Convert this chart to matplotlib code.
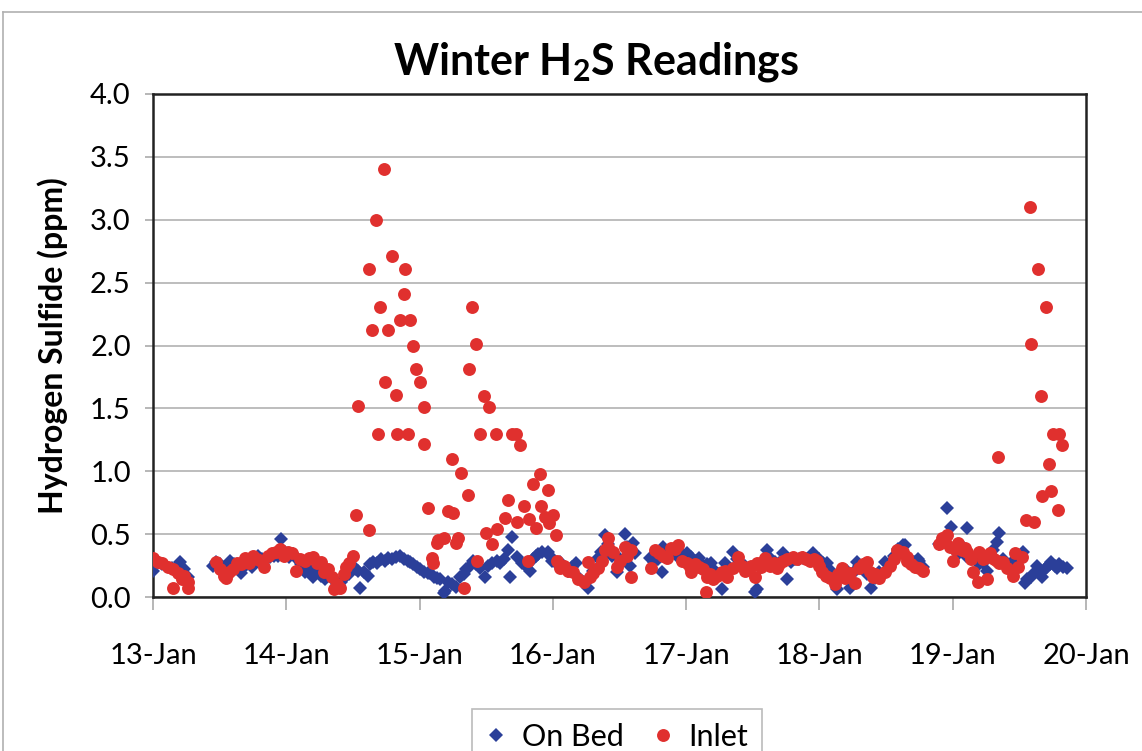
import matplotlib
matplotlib.use("Agg")
import matplotlib.pyplot as plt
from matplotlib.lines import Line2D
import numpy as np

# ---- Data: time in days since 13-Jan 00:00, H2S in ppm ----
onbed_t_a = [0.00, 0.04, 0.07, 0.10, 0.14, 0.17, 0.20, 0.23, 0.26]
onbed_v_a = [0.21, 0.28, 0.26, 0.25, 0.23, 0.22, 0.28, 0.22, 0.16]

onbed_t_b = [0.45, 0.47, 0.50, 0.53, 0.56, 0.58, 0.61, 0.64, 0.66, 0.69,
             0.72, 0.74, 0.77, 0.79, 0.82, 0.85, 0.88, 0.91, 0.94, 0.96,
             0.99, 1.02, 1.05, 1.08, 1.11, 1.14, 1.17, 1.20, 1.23, 1.26,
             1.29, 1.32, 1.35, 1.38, 1.41, 1.44, 1.47, 1.50, 1.52, 1.54,
             1.55, 1.58, 1.61, 1.63, 1.65, 1.68, 1.71, 1.74, 1.76, 1.79,
             1.82, 1.85, 1.88, 1.91, 1.93, 1.95, 1.98, 2.00, 2.03, 2.06,
             2.08, 2.11, 2.13, 2.15, 2.18, 2.19, 2.21, 2.24, 2.27, 2.30,
             2.33, 2.35, 2.36, 2.40, 2.42, 2.45, 2.49, 2.51, 2.54, 2.58,
             2.60, 2.63, 2.66, 2.68, 2.69, 2.73, 2.77, 2.80, 2.83, 2.85,
             2.87, 2.89, 2.92, 2.96, 2.98, 2.99, 3.02, 3.05, 3.08, 3.11,
             3.14, 3.17, 3.20, 3.23, 3.26, 3.28, 3.30, 3.34, 3.36, 3.39,
             3.41, 3.44, 3.48, 3.50, 3.54, 3.56, 3.58, 3.60, 3.62]
onbed_v_b = [0.25, 0.28, 0.26, 0.23, 0.25, 0.29, 0.26, 0.24, 0.19, 0.25,
             0.27, 0.24, 0.29, 0.33, 0.30, 0.31, 0.32, 0.33, 0.33, 0.46,
             0.36, 0.32, 0.34, 0.30, 0.26, 0.20, 0.22, 0.16, 0.20, 0.17,
             0.14, 0.18, 0.14, 0.10, 0.12, 0.16, 0.18, 0.24, 0.22, 0.21,
             0.07, 0.20, 0.17, 0.26, 0.28, 0.27, 0.30, 0.29, 0.31, 0.30,
             0.32, 0.33, 0.30, 0.29, 0.28, 0.26, 0.24, 0.22, 0.20, 0.19,
             0.19, 0.16, 0.15, 0.14, 0.03, 0.05, 0.12, 0.10, 0.08, 0.16,
             0.18, 0.22, 0.23, 0.29, 0.26, 0.23, 0.16, 0.25, 0.27, 0.29,
             0.27, 0.30, 0.37, 0.16, 0.48, 0.32, 0.27, 0.25, 0.21, 0.30,
             0.33, 0.34, 0.36, 0.36, 0.33, 0.29, 0.27, 0.28, 0.24, 0.21,
             0.24, 0.27, 0.14, 0.12, 0.07, 0.15, 0.21, 0.31, 0.36, 0.49,
             0.42, 0.33, 0.20, 0.30, 0.50, 0.40, 0.25, 0.43, 0.35]

onbed_t_c = [3.73, 3.76, 3.79, 3.82, 3.83, 3.86, 3.89, 3.93, 3.97, 4.01,
             4.04, 4.07, 4.10, 4.13, 4.16, 4.19, 4.22, 4.25, 4.27, 4.29,
             4.32, 4.35, 4.38, 4.41, 4.44, 4.48, 4.52, 4.53, 4.56, 4.59,
             4.61, 4.64, 4.67, 4.70, 4.73, 4.76, 4.79, 4.82, 4.85, 4.88,
             4.91, 4.95, 4.98, 5.00, 5.03, 5.06, 5.09, 5.13, 5.15, 5.18,
             5.21, 5.23, 5.26, 5.28, 5.30, 5.33, 5.36, 5.39, 5.42, 5.45,
             5.49, 5.53, 5.56, 5.59, 5.63, 5.64, 5.68, 5.71, 5.74, 5.75,
             5.78]
onbed_v_c = [0.31, 0.28, 0.30, 0.20, 0.40, 0.34, 0.36, 0.33, 0.34, 0.35,
             0.32, 0.29, 0.31, 0.25, 0.26, 0.27, 0.21, 0.18, 0.06, 0.27,
             0.22, 0.36, 0.30, 0.27, 0.25, 0.22, 0.04, 0.06, 0.24, 0.30,
             0.37, 0.30, 0.28, 0.27, 0.35, 0.14, 0.28, 0.30, 0.30, 0.31,
             0.30, 0.35, 0.29, 0.30, 0.27, 0.27, 0.21, 0.06, 0.18, 0.16,
             0.21, 0.07, 0.20, 0.28, 0.25, 0.22, 0.18, 0.07, 0.15, 0.20,
             0.28, 0.27, 0.33, 0.38, 0.41, 0.41, 0.30, 0.28, 0.30, 0.29,
             0.24]

onbed_t_d = [5.90, 5.93, 5.96, 5.99, 6.02, 6.04, 6.08, 6.10, 6.11, 6.14,
             6.17, 6.20, 6.23, 6.26, 6.30, 6.33, 6.35, 6.38, 6.41, 6.44,
             6.47, 6.50, 6.53, 6.54, 6.56, 6.59, 6.61, 6.63, 6.65, 6.67,
             6.69, 6.71, 6.73, 6.74, 6.77, 6.78, 6.80, 6.83, 6.86]
onbed_v_d = [0.42, 0.45, 0.71, 0.56, 0.38, 0.34, 0.40, 0.33, 0.55, 0.31,
             0.30, 0.26, 0.27, 0.21, 0.37, 0.44, 0.51, 0.30, 0.25, 0.27,
             0.24, 0.31, 0.36, 0.11, 0.14, 0.16, 0.19, 0.25, 0.20, 0.16,
             0.22, 0.24, 0.26, 0.28, 0.25, 0.23, 0.26, 0.24, 0.23]

inlet_t_a = [0.00, 0.04, 0.07, 0.11, 0.15, 0.15, 0.19, 0.22, 0.23, 0.26, 0.26]
inlet_v_a = [0.31, 0.28, 0.27, 0.24, 0.22, 0.07, 0.19, 0.14, 0.17, 0.07, 0.12]

inlet_t_b = [0.47, 0.50, 0.53, 0.55, 0.57, 0.60, 0.63, 0.66, 0.69, 0.72,
             0.75, 0.78, 0.81, 0.83, 0.86, 0.89, 0.92, 0.95, 0.98, 1.01,
             1.04, 1.07, 1.10, 1.14, 1.17, 1.20, 1.23, 1.26, 1.28, 1.31,
             1.34, 1.36, 1.38, 1.40, 1.43, 1.45, 1.47, 1.50]
inlet_v_b = [0.28, 0.22, 0.17, 0.15, 0.20, 0.22, 0.27, 0.26, 0.31, 0.27,
             0.33, 0.30, 0.29, 0.24, 0.33, 0.35, 0.36, 0.38, 0.33, 0.36,
             0.35, 0.21, 0.30, 0.29, 0.31, 0.32, 0.27, 0.28, 0.20, 0.22,
             0.16, 0.06, 0.10, 0.07, 0.18, 0.24, 0.27, 0.33]

inlet_t_peak1 = [1.52, 1.54, 1.62, 1.62, 1.64, 1.67, 1.69, 1.70, 1.73, 1.74,
                 1.76, 1.79, 1.82, 1.83, 1.85, 1.88, 1.89, 1.91, 1.93, 1.95,
                 1.97, 2.00, 2.03, 2.03, 2.06, 2.09, 2.10, 2.13, 2.14, 2.18,
                 2.21, 2.24, 2.25, 2.27, 2.29, 2.31, 2.33, 2.36, 2.37, 2.39,
                 2.42, 2.43, 2.45, 2.48, 2.50, 2.52, 2.54, 2.57, 2.58, 2.64,
                 2.66, 2.69, 2.72, 2.73, 2.75, 2.78, 2.81, 2.82, 2.85, 2.87,
                 2.90, 2.91, 2.94, 2.96, 2.97, 3.00, 3.02]
inlet_v_peak1 = [0.65, 1.52, 2.61, 0.53, 2.12, 3.00, 1.30, 2.31, 3.40, 1.71,
                 2.12, 2.71, 1.61, 1.30, 2.20, 2.41, 2.61, 1.30, 2.20, 2.00,
                 1.81, 1.71, 1.51, 1.22, 0.71, 0.31, 0.27, 0.43, 0.45, 0.47,
                 0.68, 1.10, 0.67, 0.43, 0.47, 0.99, 0.07, 0.81, 1.81, 2.31,
                 2.01, 0.29, 1.30, 1.60, 0.51, 1.51, 0.42, 1.30, 0.54, 0.63,
                 0.77, 1.30, 1.30, 0.60, 1.21, 0.72, 0.29, 0.62, 0.90, 0.55,
                 0.98, 0.72, 0.64, 0.85, 0.59, 0.65, 0.49]

inlet_t_c = [3.03, 3.05, 3.08, 3.11, 3.15, 3.19, 3.23, 3.26, 3.28, 3.30,
             3.34, 3.37, 3.39, 3.41, 3.41, 3.45, 3.48, 3.50, 3.54, 3.56,
             3.59, 3.59]
inlet_v_c = [0.29, 0.23, 0.25, 0.21, 0.20, 0.14, 0.12, 0.28, 0.16, 0.19,
             0.23, 0.29, 0.37, 0.47, 0.40, 0.36, 0.24, 0.29, 0.40, 0.33,
             0.37, 0.16]

inlet_t_d = [3.74, 3.77, 3.80, 3.83, 3.86, 3.89, 3.92, 3.94, 3.97, 4.01,
             4.03, 4.04, 4.07, 4.10, 4.13, 4.15, 4.16, 4.18, 4.20, 4.23,
             4.27, 4.29, 4.31, 4.35, 4.39, 4.42, 4.44, 4.48, 4.49, 4.52,
             4.53, 4.56, 4.59, 4.63, 4.66, 4.68, 4.70, 4.73, 4.76, 4.80,
             4.83, 4.87, 4.90, 4.93, 4.96, 4.98, 5.00, 5.02, 5.05, 5.08,
             5.12, 5.14, 5.17, 5.19, 5.23, 5.27, 5.30, 5.33, 5.36, 5.38,
             5.40, 5.42, 5.45, 5.49, 5.53, 5.56, 5.58, 5.62, 5.63, 5.66,
             5.66, 5.69, 5.72, 5.75, 5.78]
inlet_v_d = [0.23, 0.37, 0.35, 0.33, 0.31, 0.39, 0.38, 0.41, 0.29, 0.27,
             0.24, 0.20, 0.26, 0.24, 0.22, 0.04, 0.16, 0.18, 0.14, 0.17,
             0.20, 0.21, 0.16, 0.23, 0.32, 0.25, 0.21, 0.24, 0.25, 0.16,
             0.27, 0.24, 0.31, 0.25, 0.27, 0.23, 0.26, 0.29, 0.30, 0.32,
             0.30, 0.32, 0.30, 0.29, 0.30, 0.29, 0.25, 0.20, 0.17, 0.15,
             0.10, 0.18, 0.23, 0.15, 0.19, 0.11, 0.23, 0.26, 0.28, 0.20,
             0.16, 0.18, 0.15, 0.20, 0.25, 0.30, 0.37, 0.35, 0.36, 0.32,
             0.29, 0.26, 0.24, 0.23, 0.21]

inlet_t_e = [5.90, 5.92, 5.94, 5.96, 5.98, 6.00, 6.02, 6.04, 6.07, 6.09,
             6.11, 6.14, 6.15, 6.19, 6.20, 6.23, 6.24, 6.26, 6.28, 6.31,
             6.33, 6.34, 6.35, 6.38, 6.41, 6.45, 6.47, 6.49, 6.52, 6.55,
             6.58, 6.59, 6.61, 6.64, 6.66, 6.67, 6.70, 6.72, 6.74, 6.75,
             6.79, 6.80, 6.82]
inlet_v_e = [0.42, 0.47, 0.44, 0.49, 0.40, 0.29, 0.38, 0.43, 0.37, 0.39,
             0.36, 0.30, 0.20, 0.12, 0.36, 0.30, 0.31, 0.14, 0.35, 0.30,
             0.29, 1.11, 0.27, 0.28, 0.23, 0.17, 0.35, 0.24, 0.32, 0.61,
             3.10, 2.01, 0.60, 2.61, 1.60, 0.80, 2.31, 1.06, 0.84, 1.30,
             0.69, 1.30, 1.21]

day_labels = ["13-Jan", "14-Jan", "15-Jan", "16-Jan", "17-Jan", "18-Jan",
              "19-Jan", "20-Jan"]
y_ticks = [0.0, 0.5, 1.0, 1.5, 2.0, 2.5, 3.0, 3.5, 4.0]

onbed_t = onbed_t_a + onbed_t_b + onbed_t_c + onbed_t_d
onbed_v = onbed_v_a + onbed_v_b + onbed_v_c + onbed_v_d
inlet_t = inlet_t_a + inlet_t_b + inlet_t_peak1 + inlet_t_c + inlet_t_d + inlet_t_e
inlet_v = inlet_v_a + inlet_v_b + inlet_v_peak1 + inlet_v_c + inlet_v_d + inlet_v_e

BLUE = "#2B3F99"
RED = "#E0302E"
FONT = ["Lato", "DejaVu Sans"]
plt.rcParams["font.family"] = FONT

fig = plt.figure(figsize=(11.42, 7.51), dpi=100)
fig.patch.set_facecolor("white")

# outer chart border (top and left visible in the reference)
fig.add_artist(Line2D([3 / 1142, 1.0], [1 - 12 / 751, 1 - 12 / 751],
                      transform=fig.transFigure, color="#B0B0B0", lw=1.2))
fig.add_artist(Line2D([3 / 1142, 3 / 1142], [0.0, 1 - 12 / 751],
                      transform=fig.transFigure, color="#B0B0B0", lw=1.2))

ax = fig.add_axes([153 / 1142, 1 - 597 / 751, (1086 - 153) / 1142, (597 - 94) / 751])

ax.plot(onbed_t, onbed_v, linestyle="none", marker="D", markersize=7.2,
        color=BLUE, markeredgewidth=0, label="On Bed", zorder=3)
ax.plot(inlet_t, inlet_v, linestyle="none", marker="o", markersize=9.3,
        color=RED, markeredgewidth=0, label="Inlet", zorder=4)

ax.set_xlim(0, 7)
ax.set_ylim(0, 4)
ax.set_xticks(range(len(day_labels)))
ax.set_xticklabels(day_labels)
ax.set_yticks(y_ticks)
ax.set_yticklabels([f"{v:.1f}" for v in y_ticks])

ax.yaxis.grid(True, color="#BDBDBD", lw=1.4)
ax.set_axisbelow(True)
for s in ax.spines.values():
    s.set_color("#222222")
    s.set_linewidth(1.8)

ax.tick_params(axis="x", length=9, width=1.2, color="#AAAAAA", pad=24,
               labelsize=21, direction="out")
ax.tick_params(axis="y", length=6, width=1.2, color="#AAAAAA", pad=10,
               labelsize=21, direction="out")

ax.set_ylabel("Hydrogen Sulfide (ppm)", fontsize=23, fontweight="bold",
              labelpad=16)

fig.text(596 / 1142, 1 - 62 / 751, r"Winter H$_\mathregular{2}$S Readings",
         ha="center", va="center", fontsize=31, fontweight="bold")

leg = fig.legend(handles=[
    Line2D([], [], linestyle="none", marker="D", markersize=7.2, color=BLUE,
           markeredgewidth=0, label="On Bed"),
    Line2D([], [], linestyle="none", marker="o", markersize=9.3, color=RED,
           markeredgewidth=0, label="Inlet")],
    loc="upper center", bbox_to_anchor=(617 / 1142, 1 - 694 / 751), ncol=2,
    fontsize=22, frameon=True, fancybox=False, edgecolor="#AAAAAA",
    handlelength=0.7, handletextpad=0.5, columnspacing=0.9, borderpad=0.45)
leg.get_frame().set_linewidth(1.2)

fig.savefig("out.png", dpi=100)
